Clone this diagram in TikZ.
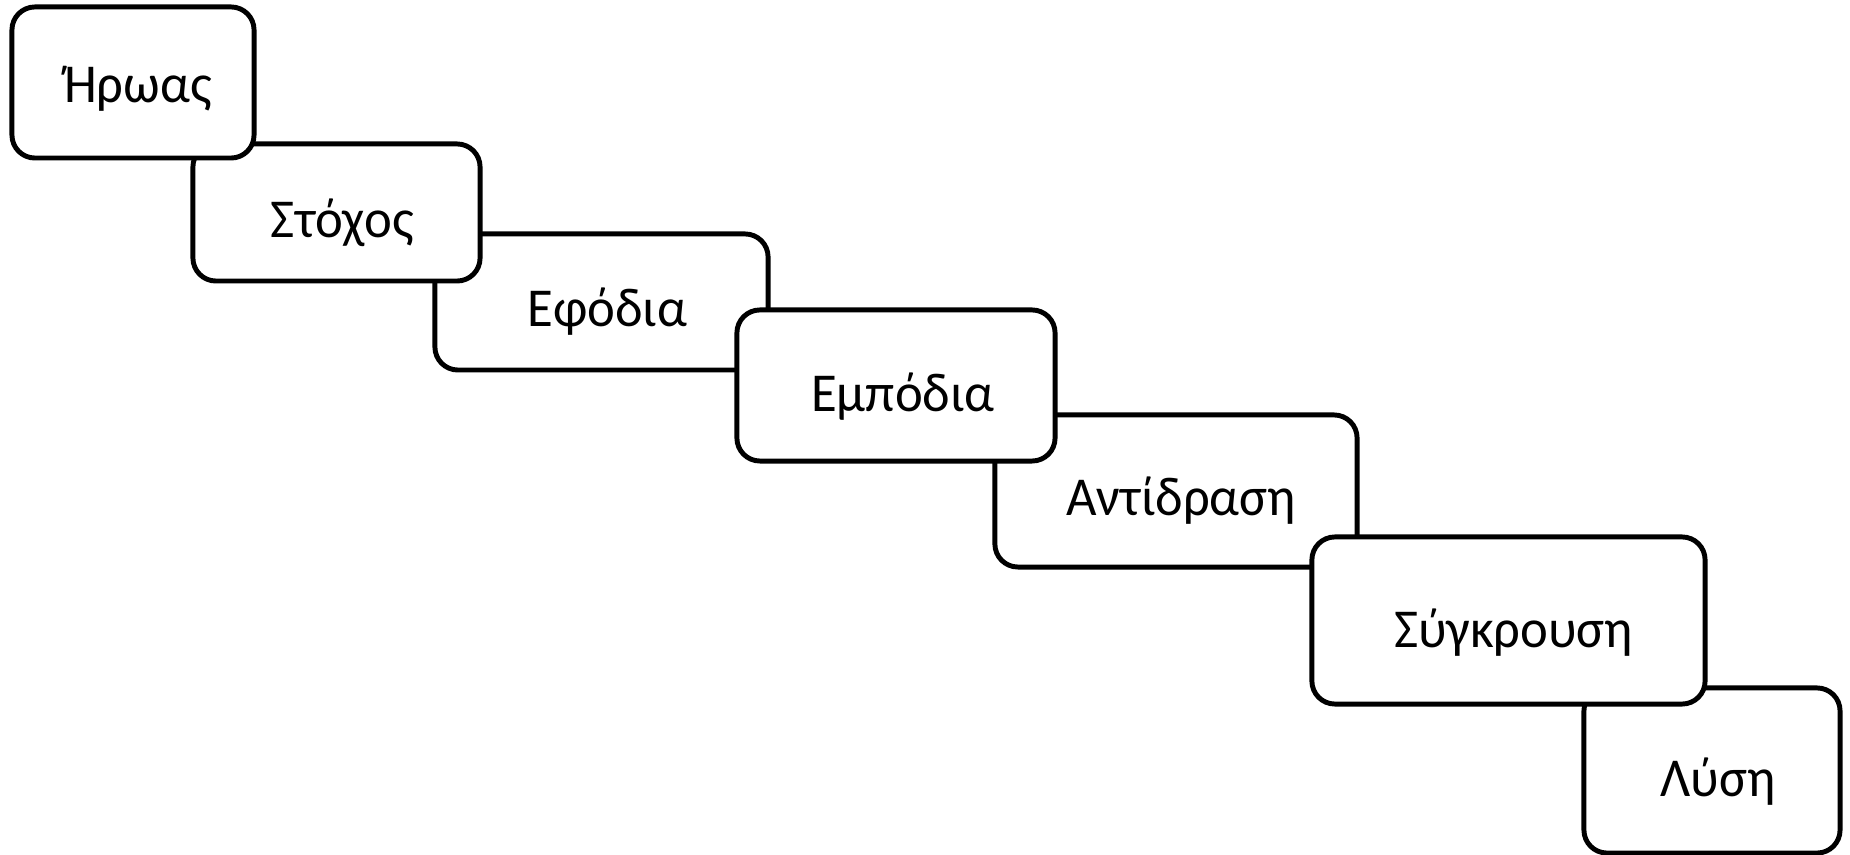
\documentclass[tikz,border=0pt]{standalone}
\usepackage{fontspec}
\setmainfont{Carlito}
\usetikzlibrary{calc}
\begin{document}
\begin{tikzpicture}[x=0.01cm,y=-0.01cm,
  box/.style={draw=black,fill=white,line width=1.4pt,rounded corners=0.23cm,inner sep=0pt,minimum width=#1},
  lbl/.style={font=\fontsize{15.6pt}{18pt}\selectfont,inner sep=0pt,xscale=0.96}]
\useasboundingbox (0,0) rectangle (1850,855);
% bottom layer
\node[box=2.56cm,minimum height=1.65cm] (b7) at (1712,770.5) {};
\node[box=3.62cm,minimum height=1.52cm] (b5) at (1176,491) {};
\node[box=3.33cm,minimum height=1.36cm] (b3) at (601.5,302) {};
% upper layer
\node[box=2.87cm,minimum height=1.37cm] (b2) at (336.5,212.5) {};
\node[box=2.42cm,minimum height=1.51cm] (b1) at (133,82.5) {};
\node[box=3.18cm,minimum height=1.51cm] (b4) at (896,385.5) {};
\node[box=3.93cm,minimum height=1.67cm] (b6) at (1508.5,620.5) {};
% labels
\node[lbl] (t1) at ($(b1.center)+(5,6)$) {Ήρωας};
\node[lbl] (t2) at ($(b2.center)+(6,10)$) {Στόχος};
\node[lbl] (t3) at ($(b3.center)+(6,10)$) {Εφόδια};
\node[lbl] (t4) at ($(b4.center)+(7,11)$) {Εμπόδια};
\node[lbl] (t5) at ($(b5.center)+(5,10)$) {Αντίδραση};
\node[lbl] (t6) at ($(b6.center)+(5,12)$) {Σύγκρουση};
\node[lbl] (t7) at ($(b7.center)+(6,11)$) {Λύση};
\end{tikzpicture}
\end{document}
